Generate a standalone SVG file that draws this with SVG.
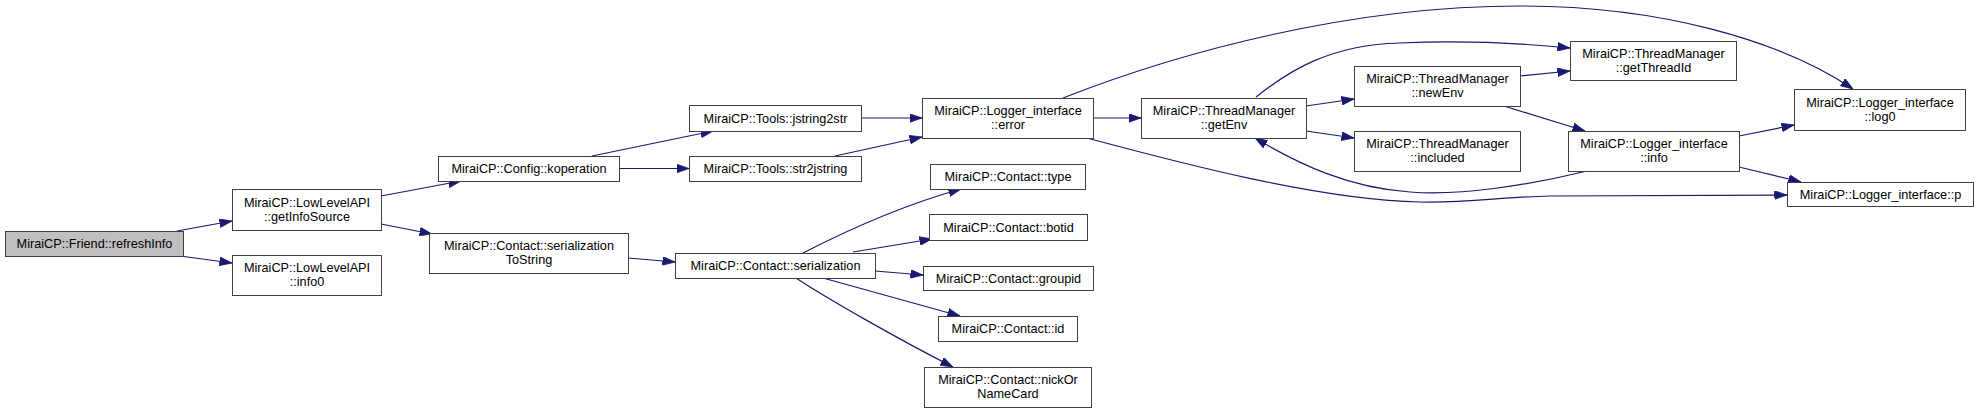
<svg xmlns="http://www.w3.org/2000/svg" width="1979" height="413" viewBox="0 0 1979 413">
<style>
.n rect{fill:#ffffff;stroke:#404040;stroke-width:1}
.n.h rect{fill:#bfbfbf}
.n text{font-family:"Liberation Sans",Arial,sans-serif;font-size:12.7px;fill:#000000;text-anchor:middle}
.e path{fill:none;stroke:#191970;stroke-width:1.2;marker-end:url(#ah)}
</style>
<defs>
<marker id="ah" viewBox="0 0 10 7" refX="10" refY="3.5" markerWidth="12.5" markerHeight="9" markerUnits="userSpaceOnUse" orient="auto">
<path d="M0,0 L10,3.5 L0,7 Z" fill="#191970" stroke="#191970" stroke-width="0.6"/>
</marker>
</defs>
<rect width="1979" height="413" fill="#ffffff"/>
<g id="edges" class="e">
<path d="M177,231 L232,221"/>
<path d="M180,256 L232,263"/>
<path d="M381,196 L461,181"/>
<path d="M381,224 L432,234"/>
<path d="M592,156 L713,131"/>
<path d="M619,168.5 L689,168.5"/>
<path d="M628,258 L675,262"/>
<path d="M861,118 L922,118"/>
<path d="M835,156 L922,137"/>
<path d="M803,253 C840,234 900,206 961,189"/>
<path d="M853,252 L932,239"/>
<path d="M875,271 L923,275"/>
<path d="M823,278 L960,316"/>
<path d="M796,278 C826,298 900,340 953,367"/>
<path d="M1093,118 L1141,118"/>
<path d="M1063,98 C1180,52 1350,6 1520,6 C1660,6 1780,40 1853,89"/>
<path d="M1087,138 C1180,163 1320,200 1420,202 C1470,203 1500,197 1550,196 L1787,195"/>
<path d="M1256,97 C1290,70 1330,45 1400,43 C1470,40 1520,43 1570,48"/>
<path d="M1306,106 L1354,99"/>
<path d="M1306,131 L1354,138"/>
<path d="M1520,76 L1570,71"/>
<path d="M1504,106 L1585,131"/>
<path d="M1587,171 C1530,185 1460,196 1410,192 C1350,188 1300,165 1255,138"/>
<path d="M1739,136 L1794,125"/>
<path d="M1739,167 L1801,182"/>
</g>
<g id="refreshInfo" class="n h"><rect x="5.5" y="231.5" width="178" height="25"/><text x="94.5" y="248">MiraiCP::Friend::refreshInfo</text></g>
<g id="getInfoSource" class="n"><rect x="232.5" y="189.5" width="149" height="41"/><text x="307" y="206.5">MiraiCP::LowLevelAPI</text><text x="307" y="220.5">::getInfoSource</text></g>
<g id="info0" class="n"><rect x="232.5" y="255.5" width="149" height="40"/><text x="307" y="272">MiraiCP::LowLevelAPI</text><text x="307" y="286">::info0</text></g>
<g id="koperation" class="n"><rect x="438.5" y="156.5" width="181" height="25"/><text x="529" y="173">MiraiCP::Config::koperation</text></g>
<g id="serializationToString" class="n"><rect x="429.5" y="233.5" width="199" height="40"/><text x="529" y="250">MiraiCP::Contact::serialization</text><text x="529" y="264">ToString</text></g>
<g id="jstring2str" class="n"><rect x="689.5" y="105.5" width="172" height="26"/><text x="775.5" y="122.5">MiraiCP::Tools::jstring2str</text></g>
<g id="str2jstring" class="n"><rect x="689.5" y="156.5" width="172" height="25"/><text x="775.5" y="173">MiraiCP::Tools::str2jstring</text></g>
<g id="serialization" class="n"><rect x="675.5" y="253.5" width="200" height="25"/><text x="775.5" y="270">MiraiCP::Contact::serialization</text></g>
<g id="error" class="n"><rect x="922.5" y="98.5" width="171" height="40"/><text x="1008" y="115">MiraiCP::Logger_interface</text><text x="1008" y="129">::error</text></g>
<g id="type" class="n"><rect x="930.5" y="164.5" width="155" height="25"/><text x="1008" y="181">MiraiCP::Contact::type</text></g>
<g id="botid" class="n"><rect x="929.5" y="214.5" width="158" height="26"/><text x="1008.5" y="231.5">MiraiCP::Contact::botid</text></g>
<g id="groupid" class="n"><rect x="923.5" y="266.5" width="170" height="24"/><text x="1008.5" y="282.5">MiraiCP::Contact::groupid</text></g>
<g id="id" class="n"><rect x="938.5" y="316.5" width="139" height="25"/><text x="1008" y="333">MiraiCP::Contact::id</text></g>
<g id="nickOrNameCard" class="n"><rect x="924.5" y="367.5" width="167" height="40"/><text x="1008" y="384">MiraiCP::Contact::nickOr</text><text x="1008" y="398">NameCard</text></g>
<g id="getEnv" class="n"><rect x="1141.5" y="98.5" width="165" height="40"/><text x="1224" y="115">MiraiCP::ThreadManager</text><text x="1224" y="129">::getEnv</text></g>
<g id="newEnv" class="n"><rect x="1354.5" y="66.5" width="166" height="40"/><text x="1437.5" y="83">MiraiCP::ThreadManager</text><text x="1437.5" y="97">::newEnv</text></g>
<g id="included" class="n"><rect x="1354.5" y="131.5" width="166" height="40"/><text x="1437.5" y="148">MiraiCP::ThreadManager</text><text x="1437.5" y="162">::included</text></g>
<g id="getThreadId" class="n"><rect x="1570.5" y="41.5" width="166" height="39"/><text x="1653.5" y="57.5">MiraiCP::ThreadManager</text><text x="1653.5" y="71.5">::getThreadId</text></g>
<g id="info" class="n"><rect x="1568.5" y="131.5" width="171" height="40"/><text x="1654" y="148">MiraiCP::Logger_interface</text><text x="1654" y="162">::info</text></g>
<g id="log0" class="n"><rect x="1794.5" y="89.5" width="171" height="41"/><text x="1880" y="106.5">MiraiCP::Logger_interface</text><text x="1880" y="120.5">::log0</text></g>
<g id="p" class="n"><rect x="1787.5" y="182.5" width="186" height="24"/><text x="1880.5" y="198.5">MiraiCP::Logger_interface::p</text></g>
</svg>
